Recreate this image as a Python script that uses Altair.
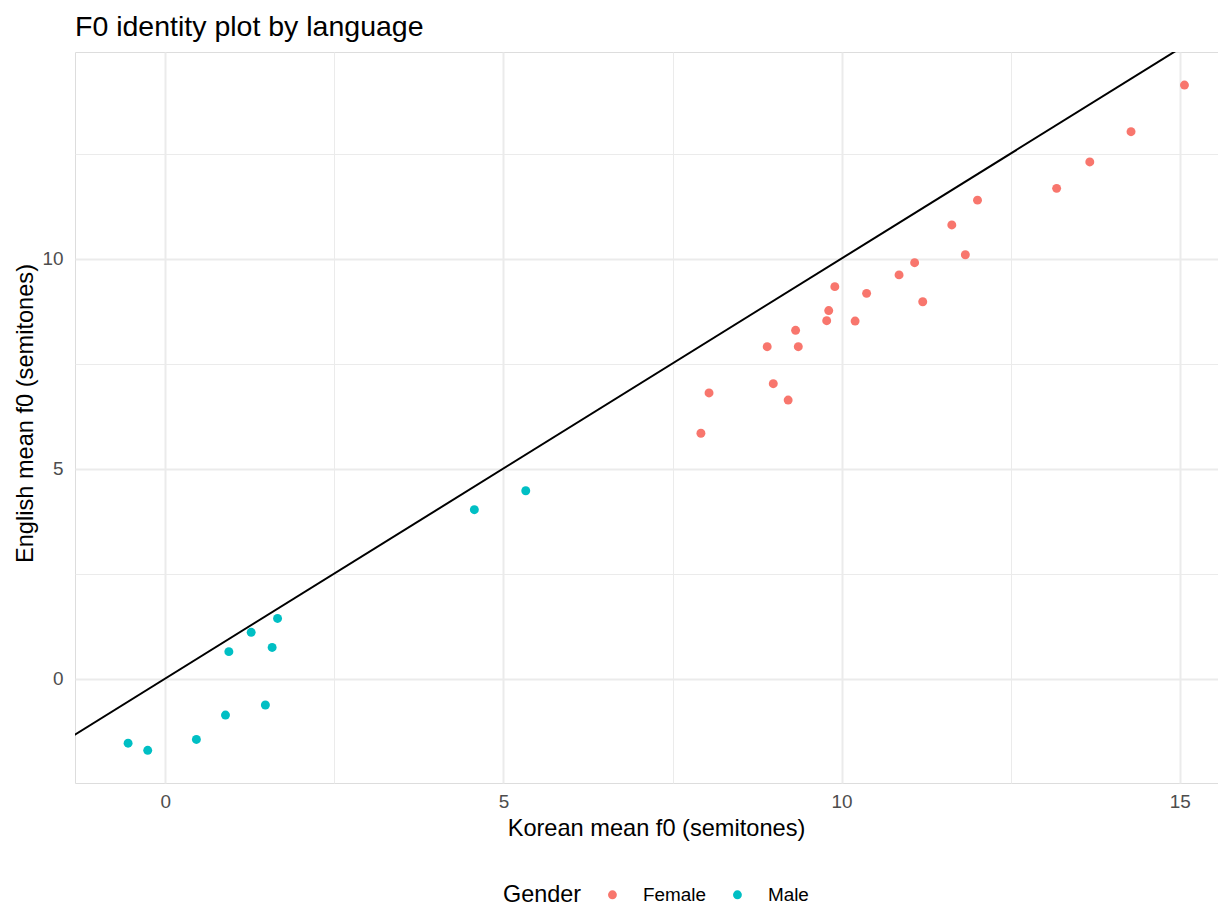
import altair as alt
import pandas as pd

# Values
male_korean = [-0.55, -0.26, 0.46, 0.89, 1.48, 0.94, 1.27, 1.58, 1.66, 4.57, 5.33]
male_english = [-1.54, -1.71, -1.45, -0.87, -0.63, 0.64, 1.10, 0.74, 1.43, 4.02, 4.47]

female_korean = [7.92, 8.04, 8.90, 8.99, 9.21, 9.32, 9.36, 9.78, 9.81, 9.90, 10.20,
                 10.37, 10.85, 11.08, 11.20, 11.63, 11.83, 12.01, 13.18, 13.67, 14.28, 15.07]
female_english = [5.84, 6.80, 7.90, 7.02, 6.63, 8.29, 7.90, 8.52, 8.76, 9.33, 8.51,
                  9.17, 9.61, 9.90, 8.97, 10.80, 10.09, 11.39, 11.67, 12.30, 13.02, 14.13]

genders = ["Female", "Male"]
gender_colors = ["#F8766D", "#00BFC4"]

x_domain = [-1.335, 15.566]
y_domain = [-2.488, 14.917]
grid_ticks = [0, 2.5, 5, 7.5, 10, 12.5, 15]
identity_ends = [-5, 20]

FONT = "Liberation Sans"

df = pd.DataFrame({
    "korean": female_korean + male_korean,
    "english": female_english + male_english,
    "Gender": ["Female"] * len(female_korean) + ["Male"] * len(male_korean),
})
line_df = pd.DataFrame({"korean": identity_ends, "english": identity_ends})

grid_width = {"condition": {"test": "datum.value % 5 === 0", "value": 2}, "value": 1}
label_expr = "datum.value % 5 === 0 ? format(datum.value, 'd') : ''"

x_axis = alt.Axis(
    title="Korean mean f0 (semitones)", values=grid_ticks, labelExpr=label_expr,
    grid=True, gridColor="#EBEBEB", gridWidth=grid_width, domain=False, ticks=False,
    labelFont=FONT, labelFontSize=18.9, labelColor="#4D4D4D", labelPadding=9,
    labelFlush=False, labelOverlap=False,
    titleFont=FONT, titleFontSize=23.6, titleFontWeight="normal", titleColor="black",
    titleX=581, titleY=52, titleBaseline="alphabetic", titleAnchor="start", titleAlign="center",
)
y_axis = alt.Axis(
    title="English mean f0 (semitones)", values=grid_ticks, labelExpr=label_expr,
    grid=True, gridColor="#EBEBEB", gridWidth=grid_width, domain=False, ticks=False,
    labelFont=FONT, labelFontSize=18.9, labelColor="#4D4D4D", labelPadding=12,
    labelFlush=False, labelOverlap=False,
    titleFont=FONT, titleFontSize=23.6, titleFontWeight="normal", titleColor="black",
    titleX=-50, titleY=361, titleBaseline="middle", titleAlign="center", titleAngle=270,
)

x_enc = alt.X("korean:Q", scale=alt.Scale(domain=x_domain, nice=False, zero=False), axis=x_axis)
y_enc = alt.Y("english:Q", scale=alt.Scale(domain=y_domain, nice=False, zero=False), axis=y_axis)

points = alt.Chart(df).mark_circle(size=80, opacity=1).encode(
    x=x_enc,
    y=y_enc,
    color=alt.Color(
        "Gender:N",
        scale=alt.Scale(domain=genders, range=gender_colors),
        legend=alt.Legend(
            orient="none", legendX=428, legendY=833, direction="horizontal",
            titleOrient="left", title="Gender",
            titleFont=FONT, titleFontSize=23.4, titleFontWeight="normal", titleColor="black",
            titlePadding=21, titleBaseline="middle",
            labelFont=FONT, labelFontSize=18.9, labelColor="black", labelOffset=21,
            symbolType="circle", symbolSize=78, symbolStrokeWidth=0, symbolOpacity=1,
            columnPadding=22,
        ),
    ),
)

identity = alt.Chart(line_df).mark_line(color="black", strokeWidth=2, clip=True).encode(
    x="korean:Q", y="english:Q"
)

chart = (
    alt.layer(points, identity)
    .properties(
        width=1143, height=731,
        title=alt.TitleParams(
            "F0 identity plot by language", anchor="start", frame="group",
            font=FONT, fontSize=28.5, fontWeight="normal", color="black",
            baseline="alphabetic", offset=18, dy=30,
        ),
        autosize=alt.AutoSizeParams(type="none"),
        padding={"left": 67, "top": 44, "right": 0, "bottom": 121},
    )
    .configure_view(strokeWidth=0)
    .configure(background="white")
)

chart.save("out.html", embed_options={"renderer": "svg", "actions": False})
